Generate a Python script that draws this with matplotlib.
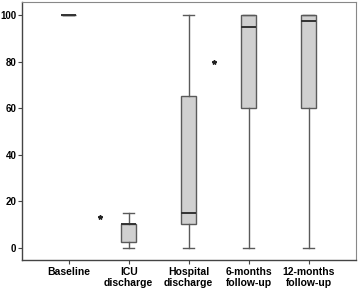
import matplotlib.pyplot as plt

# data
labels = ['Baseline', 'ICU\ndischarge', 'Hospital\ndischarge', '6-months\nfollow-up', '12-months\nfollow-up']
whislo = [100, 0, 0, 0, 0]
q1 = [100, 2.5, 10, 60, 60]
med = [100, 10, 15, 95, 97.5]
q3 = [100, 10, 65, 100, 100]
whishi = [100, 15, 100, 100, 100]
# outlier stars (x position, value)
star_x = [1.52, 3.43]
star_y = [13, 80]

plt.rcParams['font.family'] = ['Liberation Sans', 'DejaVu Sans']

fig = plt.figure(figsize=(3.58, 2.88), dpi=100)
ax = fig.add_axes([22 / 358, 28 / 288, 334 / 358, 258 / 288])

stats = []
for i in range(len(labels)):
    stats.append(dict(whislo=whislo[i], q1=q1[i], med=med[i], q3=q3[i], whishi=whishi[i], fliers=[]))

ax.bxp(stats, positions=range(1, 6), widths=0.25, capwidths=0.18, patch_artist=True,
       showfliers=False,
       boxprops=dict(facecolor='#d0d0d0', edgecolor='#5a5a5a', linewidth=1.0),
       medianprops=dict(color='#333333', linewidth=1.4),
       whiskerprops=dict(color='#5a5a5a', linewidth=1.0),
       capprops=dict(color='#5a5a5a', linewidth=1.0))

ax.plot(star_x, star_y, linestyle='none', marker='*', color='#222222', markersize=3.2)

ax.set_xlim(0.22, 5.79)
ax.set_ylim(-5.3, 105.6)
ax.set_yticks([0, 20, 40, 60, 80, 100])
ax.set_xticks(range(1, 6))
ax.set_xticklabels(labels, fontsize=7.5, fontweight='bold', linespacing=1.1)
ax.tick_params(axis='y', labelsize=7, length=3, width=0.8, color='#444444', pad=1)
ax.tick_params(axis='x', length=3, width=0.8, color='#444444', pad=2)
for lab in ax.get_yticklabels():
    lab.set_fontweight('bold')

for s in ['left', 'bottom']:
    ax.spines[s].set_color('#444444')
    ax.spines[s].set_linewidth(1.0)
for s in ['top', 'right']:
    ax.spines[s].set_color('#888888')
    ax.spines[s].set_linewidth(0.8)

fig.savefig('out.png', dpi=100)
